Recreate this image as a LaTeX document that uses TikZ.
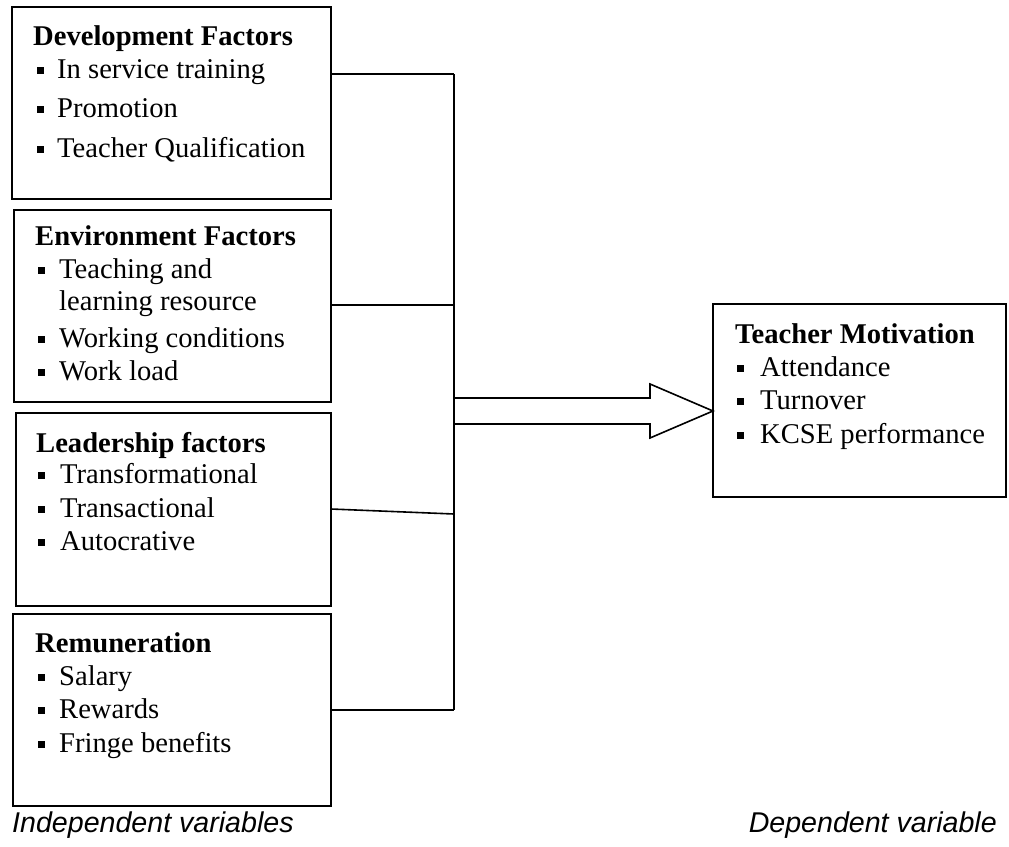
\documentclass[tikz,border=0pt]{standalone}
\usepackage{fontspec}
\setmainfont{Liberation Serif}
\newfontfamily\labfont{Liberation Sans}
\begin{document}
\begin{tikzpicture}[x=1pt,y=-1pt]
\tikzset{
  box/.style={draw, line width=1.6pt, inner sep=0pt},
  head/.style={anchor=base west, inner sep=0pt, font=\fontsize{28.6}{34}\selectfont\bfseries},
  item/.style={anchor=base west, inner sep=0pt, font=\fontsize{28.6}{34}\selectfont},
  bul/.style={fill, minimum size=7pt, inner sep=0pt},
  conn/.style={line width=1.6pt},
  lab/.style={anchor=base west, inner sep=0pt, font=\fontsize{28.6}{34}\labfont\itshape},
}
\useasboundingbox (0,0) rectangle (1009,846);

% boxes
\node[box, minimum width=319pt, minimum height=192pt] (b1) at (171.5,103) {};
\node[box, minimum width=317pt, minimum height=192pt] (b2) at (172.5,306) {};
\node[box, minimum width=315pt, minimum height=193pt] (b3) at (173.5,509.5) {};
\node[box, minimum width=318pt, minimum height=192pt] (b4) at (172,710) {};
\node[box, minimum width=293pt, minimum height=193pt] (tm) at (859.5,400.5) {};

% box 1
\node[head] (h1) at (33,45) {Development Factors};
\node[bul] (u11) at (40,70.5) {}; \node[item] (t11) at (57,78) {In service training};
\node[bul] (u12) at (40,109.5) {}; \node[item] (t12) at (57,117) {Promotion};
\node[bul] (u13) at (40,149.5) {}; \node[item] (t13) at (57,157) {Teacher Qualification};

% box 2
\node[head] (h2) at (35,245) {Environment Factors};
\node[bul] (u21) at (41,270.5) {}; \node[item] (t21) at (59,278) {Teaching and};
\node[item] (t22) at (59,310) {learning resource};
\node[bul] (u23) at (41,339.5) {}; \node[item] (t23) at (59,347) {Working conditions};
\node[bul] (u24) at (41,372.5) {}; \node[item] (t24) at (59,380) {Work load};

% box 3
\node[head] (h3) at (36,452) {Leadership factors};
\node[bul] (u31) at (41.5,475.5) {}; \node[item] (t31) at (60,483) {Transformational};
\node[bul] (u32) at (41.5,509.5) {}; \node[item] (t32) at (60,517) {Transactional};
\node[bul] (u33) at (41.5,542.5) {}; \node[item] (t33) at (60,550) {Autocrative};

% box 4
\node[head] (h4) at (35,652) {Remuneration};
\node[bul] (u41) at (41,677.5) {}; \node[item] (t41) at (59,685) {Salary};
\node[bul] (u42) at (41,710.5) {}; \node[item] (t42) at (59,718) {Rewards};
\node[bul] (u43) at (41,744.5) {}; \node[item] (t43) at (59,752) {Fringe benefits};

% teacher motivation
\node[head] (h5) at (735,343) {Teacher Motivation};
\node[bul] (u51) at (740.5,368.5) {}; \node[item] (t51) at (760,376) {Attendance};
\node[bul] (u52) at (740.5,401.5) {}; \node[item] (t52) at (760,409) {Turnover};
\node[bul] (u53) at (740.5,435.5) {}; \node[item] (t53) at (760,443) {KCSE performance};

% connectors
\coordinate (j1) at (454,74);
\coordinate (j2) at (454,305);
\coordinate (j3) at (454,514);
\coordinate (j4) at (454,710);
\coordinate (s3) at (331,509);
\draw[conn] (j1) -- (j4);
\draw[conn] (b1.east |- j1) -- (j1);
\draw[conn] (b2.east |- j2) -- (j2);
\draw[conn] (s3) -- (j3);
\draw[conn] (b4.east |- j4) -- (j4);

% block arrow
\coordinate (tip) at (713,411);
\draw[conn, line join=miter] (454,398) -- (650,398) -- (650,384) -- (tip) -- (650,438) -- (650,424) -- (454,424);

% labels
\node[lab] (l1) at (12,832) {Independent variables};
\node[lab, anchor=base east] (l2) at (997,832) {Dependent variable};
\end{tikzpicture}
\end{document}
